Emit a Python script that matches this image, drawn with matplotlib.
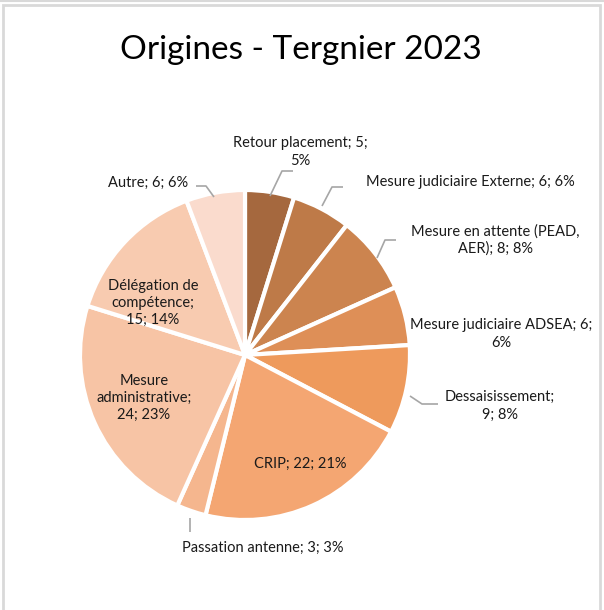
import matplotlib.pyplot as plt
from matplotlib.patches import Rectangle

# data
categories = ['Retour placement', 'Mesure judiciaire Externe', 'Mesure en attente (PEAD, AER)',
              'Mesure judiciaire ADSEA', 'Dessaisissement', 'CRIP', 'Passation antenne',
              'Mesure administrative', 'Délégation de compétence', 'Autre']
values = [5, 6, 8, 6, 9, 22, 3, 24, 15, 6]
percents = [5, 6, 8, 6, 8, 21, 3, 23, 14, 6]
colors = ['#A5683E', '#BE7A48', '#CC844F', '#DE8F57', '#EE9A5C',
          '#F4A672', '#F5B68E', '#F7C4A5', '#F8CBB0', '#FADBCD']

# label text as wrapped on the chart
label_text = ['Retour placement; 5;\n5%', 'Mesure judiciaire Externe; 6; 6%',
              'Mesure en attente (PEAD,\nAER); 8; 8%', 'Mesure judiciaire ADSEA; 6;\n6%',
              'Dessaisissement;\n9; 8%', 'CRIP; 22; 21%', 'Passation antenne; 3; 3%',
              'Mesure\nadministrative;\n24; 23%', 'Délégation de\ncompétence;\n15; 14%',
              'Autre; 6; 6%']

W, H = 604, 610
fig = plt.figure(figsize=(W/100, H/100), dpi=100)
ax = fig.add_axes([0, 0, 1, 1])

def P(x, y):
    # pixel coords (y down) -> data coords (y up)
    return x, H - y

cx, cy = P(245, 355)
ax.pie(values, colors=colors, startangle=90, counterclock=False,
       center=(cx, cy), radius=165,
       wedgeprops=dict(edgecolor='white', linewidth=3))
ax.set_xlim(0, W)
ax.set_ylim(0, H)
ax.set_aspect('equal')
ax.axis('off')

font = 'Lato'
lab_pos = [(300, 152), (470, 182), (495, 240), (501, 334), (500, 406),
           (300, 464), (263, 548), (144, 398), (153, 303), (148, 183)]
for txt, (x, y) in zip(label_text, lab_pos):
    ax.text(*P(x, y), txt, ha='center', va='center', fontsize=10.5, family=font,
            color='#1a1a1a', linespacing=1.3)

# leader lines
leaders = [
    [(270, 196), (282, 171), (293, 171)],
    [(322, 206), (332, 187), (343, 187)],
    [(377, 258), (385, 240), (396, 240)],
    [(410, 396), (422, 404), (438, 404)],
    [(190, 518), (190, 532)],
    [(214, 197), (206, 186), (196, 186)],
]
for pts in leaders:
    xs = [p[0] for p in pts]
    ys = [H - p[1] for p in pts]
    ax.plot(xs, ys, color='#A6A6A6', linewidth=1.2, solid_capstyle='butt')

ax.text(*P(301, 50), 'Origines - Tergnier 2023', ha='center', va='center',
        fontsize=24, family=font, color='black')

# chart frame
ax.add_patch(Rectangle((3, -10), 597, H - 5 + 10, fill=False,
                       edgecolor='#D9D9D9', linewidth=2, clip_on=False))
ax.plot([0, W], [H - 0.5, H - 0.5], color='#D9D9D9', linewidth=1.5)

fig.savefig('out.png', dpi=100)
